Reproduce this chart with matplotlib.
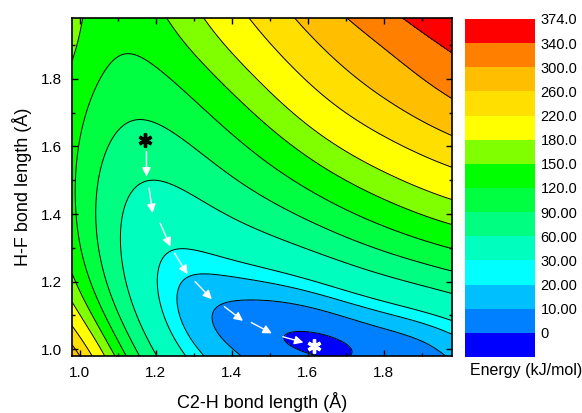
import numpy as np
import matplotlib
matplotlib.use("Agg")
import matplotlib.pyplot as plt
from numpy.polynomial import legendre as L

plt.rcParams["font.family"] = ["Liberation Sans", "DejaVu Sans"]

# energy bands (kJ/mol), boundaries from low to high, and their fill colours
levels = [-10, 0, 10, 20, 30, 60, 90, 120, 150, 180, 220, 260, 300, 340, 374]
level_labels = ["0", "10.00", "20.00", "30.00", "60.00", "90.00", "120.0",
                "150.0", "180.0", "220.0", "260.0", "300.0", "340.0", "374.0"]
fill_colors = ["#0000FF", "#0080FF", "#00BFFF", "#00FFFF", "#00FFBF", "#00FF80",
               "#00FF40", "#00FF00", "#80FF00", "#FFFF00", "#FFDF00", "#FFBF00",
               "#FF8000", "#FF0000"]

# points lying on each isoenergy line, (C2-H, H-F) in angstrom
iso_0 = [(1.716, 0.997), (1.693, 1.021), (1.628, 1.040), (1.561, 1.046),
         (1.530, 1.034), (1.553, 1.011), (1.618, 0.990), (1.685, 0.985)]
iso_10 = [(1.44, 0.975), (1.405, 1.002), (1.370, 1.051), (1.355, 1.100),
          (1.379, 1.136), (1.432, 1.147), (1.476, 1.145), (1.563, 1.126),
          (1.65, 1.10), (1.739, 1.071), (1.80, 1.053), (1.870, 1.030),
          (1.915, 1.010), (1.941, 0.992), (1.965, 0.975)]
iso_20 = [(1.345, 0.98), (1.309, 1.012), (1.283, 1.071), (1.269, 1.145),
          (1.283, 1.190), (1.344, 1.222), (1.41, 1.215), (1.476, 1.200),
          (1.56, 1.182), (1.651, 1.160), (1.74, 1.137), (1.826, 1.112),
          (1.90, 1.083), (1.98, 1.047)]
iso_30 = [(1.265, 0.98), (1.23, 1.032), (1.212, 1.111), (1.208, 1.225),
          (1.239, 1.289), (1.30, 1.286), (1.370, 1.274), (1.489, 1.245),
          (1.57, 1.222), (1.651, 1.200), (1.74, 1.173), (1.826, 1.145),
          (1.90, 1.118), (1.98, 1.090)]
iso_60 = [(1.208, 0.98), (1.17, 1.05), (1.14, 1.12), (1.12, 1.20),
          (1.108, 1.30), (1.107, 1.388), (1.12, 1.45), (1.142, 1.487),
          (1.195, 1.496), (1.25, 1.48), (1.35, 1.425), (1.489, 1.345),
          (1.57, 1.305), (1.65, 1.27), (1.74, 1.232), (1.80, 1.21),
          (1.89, 1.185), (1.98, 1.162)]
iso_90 = [(1.16, 0.98), (1.13, 1.04), (1.10, 1.10), (1.07, 1.18),
          (1.05, 1.27), (1.04, 1.37), (1.04, 1.46), (1.05, 1.53),
          (1.081, 1.615), (1.138, 1.680), (1.20, 1.672), (1.283, 1.605),
          (1.40, 1.51), (1.52, 1.43), (1.65, 1.36), (1.80, 1.29),
          (1.89, 1.258), (1.98, 1.229)]
iso_120 = [(1.12, 0.98), (1.095, 1.04), (1.072, 1.10), (1.045, 1.17),
           (1.02, 1.25), (0.997, 1.33), (0.99, 1.45), (0.993, 1.596),
           (1.028, 1.744), (1.063, 1.843), (1.116, 1.868), (1.17, 1.855),
           (1.239, 1.793), (1.30, 1.74), (1.370, 1.674), (1.43, 1.615),
           (1.489, 1.556), (1.589, 1.477), (1.68, 1.42), (1.78, 1.37),
           (1.88, 1.33), (1.98, 1.299)]
iso_150 = [(1.094, 0.98), (1.062, 1.04), (1.035, 1.10), (1.008, 1.16),
           (0.98, 1.22), (0.98, 1.823), (0.995, 1.90), (1.019, 1.98),
           (1.221, 1.98), (1.25, 1.94), (1.283, 1.892), (1.33, 1.84),
           (1.370, 1.793), (1.43, 1.72), (1.489, 1.655), (1.56, 1.59),
           (1.64, 1.53), (1.739, 1.477), (1.86, 1.415), (1.98, 1.366)]
iso_180 = [(1.063, 0.98), (1.04, 1.02), (1.02, 1.06), (1.0, 1.10),
           (0.98, 1.136), (1.326, 1.98), (1.36, 1.935), (1.40, 1.888),
           (1.44, 1.835), (1.489, 1.778), (1.55, 1.72), (1.62, 1.66),
           (1.70, 1.60), (1.78, 1.545), (1.87, 1.495), (1.98, 1.455)]
iso_220 = [(1.037, 0.98), (1.01, 1.025), (0.98, 1.071), (1.445, 1.98),
           (1.476, 1.932), (1.52, 1.87), (1.57, 1.815), (1.651, 1.744),
           (1.73, 1.68), (1.80, 1.63), (1.89, 1.575), (1.98, 1.531)]
iso_260 = [(1.006, 0.98), (0.98, 1.017), (1.568, 1.98), (1.61, 1.93),
           (1.65, 1.88), (1.695, 1.835), (1.738, 1.793), (1.80, 1.74),
           (1.85, 1.70), (1.92, 1.66), (1.98, 1.630)]
iso_300 = [(1.699, 1.98), (1.74, 1.95), (1.78, 1.92), (1.815, 1.892),
           (1.853, 1.863), (1.89, 1.833), (1.92, 1.80), (1.95, 1.772), (1.98, 1.744)]
iso_340 = [(1.844, 1.98), (1.88, 1.95), (1.914, 1.922), (1.95, 1.893), (1.98, 1.867)]

# single energy estimates (x, y, E) at corners, the well and the valley floor
spot_x = [1.98, 0.98, 0.98, 0.99, 1.623, 1.58, 1.67, 1.10, 1.116, 0.98, 1.17,
          1.19, 1.45, 1.50, 1.76, 1.80, 1.88, 1.98, 1.80]
spot_y = [1.98, 0.98, 1.98, 1.94, 1.016, 1.028, 1.006, 1.98, 1.93, 1.50, 1.62,
          1.40, 1.10, 1.00, 0.98, 1.01, 0.995, 0.98, 1.80]
spot_e = [378, 285, 158, 155, -5, -3, -3, 127, 124, 132, 80,
          48, 5, 3, 2, 4, 6, 11, 290]

# well centre, half-lengths and tilt of the lowest basin
well_c = (1.623, 1.016)
well_len = (0.10, 0.034)
well_tilt = -0.2

# reaction path arrows (tail -> head) and the two stationary points
arrow_x0 = [1.176, 1.183, 1.212, 1.250, 1.304, 1.381, 1.452, 1.535]
arrow_y0 = [1.585, 1.477, 1.373, 1.284, 1.200, 1.126, 1.079, 1.037]
arrow_x1 = [1.176, 1.192, 1.239, 1.284, 1.348, 1.430, 1.506, 1.589]
arrow_y1 = [1.511, 1.403, 1.304, 1.222, 1.148, 1.084, 1.047, 1.020]
start_pt = (1.173, 1.620)
end_pt = (1.616, 1.010)

DEG = 10
SMOOTH = 0.0008


def poly_basis(x, y):
    u = (np.asarray(x, float) - 1.48) / 0.5
    v = (np.asarray(y, float) - 1.48) / 0.5
    full = L.legvander2d(u, v, [DEG, DEG])
    keep = [i * (DEG + 1) + j for i in range(DEG + 1)
            for j in range(DEG + 1) if i + j <= DEG]
    return full[..., keep]


def well_term(x, y):
    th = np.arctan(well_tilt)
    dx = np.asarray(x, float) - well_c[0]
    dy = np.asarray(y, float) - well_c[1]
    a = dx * np.cos(th) + dy * np.sin(th)
    b = -dx * np.sin(th) + dy * np.cos(th)
    return np.exp(-(a / well_len[0]) ** 2 - (b / well_len[1]) ** 2)


def basis(x, y):
    return np.concatenate([poly_basis(x, y), well_term(x, y)[..., None]], axis=-1)


def curvature_rows(n=26, h=0.02):
    # second differences of the polynomial part, used as a smoothness penalty
    t = np.linspace(0.98, 1.98, n)
    cx, cy = [a.ravel() for a in np.meshgrid(t, t)]
    b0 = poly_basis(cx, cy)
    dxx = poly_basis(cx + h, cy) - 2 * b0 + poly_basis(cx - h, cy)
    dyy = poly_basis(cx, cy + h) - 2 * b0 + poly_basis(cx, cy - h)
    dxy = (poly_basis(cx + h, cy + h) - poly_basis(cx + h, cy - h)
           - poly_basis(cx - h, cy + h) + poly_basis(cx - h, cy - h)) / 2
    rows = np.vstack([dxx, dyy, dxy]) / h ** 2
    return np.hstack([rows, np.zeros((rows.shape[0], 1))])


# smoothed least-squares surface through the traced lines
traces = {0: iso_0, 10: iso_10, 20: iso_20, 30: iso_30, 60: iso_60, 90: iso_90,
          120: iso_120, 150: iso_150, 180: iso_180, 220: iso_220, 260: iso_260,
          300: iso_300, 340: iso_340}
px, py, pe = list(spot_x), list(spot_y), list(spot_e)
for lev, pts in traces.items():
    for x, y in pts:
        px.append(x)
        py.append(y)
        pe.append(lev)
A = basis(px, py)
P = curvature_rows() * SMOOTH
M = np.vstack([A, P])
rhs = np.concatenate([np.array(pe, float), np.zeros(P.shape[0])])
coef = np.linalg.lstsq(M, rhs, rcond=None)[0]

gx = np.linspace(0.98, 1.98, 301)
gy = np.linspace(0.98, 1.98, 301)
GX, GY = np.meshgrid(gx, gy)
Z = basis(GX, GY) @ coef
Z = np.clip(Z, levels[0] + 0.1, levels[-1] - 0.1)

fig = plt.figure(figsize=(5.82, 4.13), dpi=100)
ax = fig.add_axes([0.1237, 0.138, 0.6529, 0.8184])
cax = fig.add_axes([0.799, 0.1356, 0.1203, 0.8184])

cs = ax.contourf(GX, GY, Z, levels=levels, colors=fill_colors)
ax.contour(GX, GY, Z, levels=levels[1:-1], colors="black", linewidths=0.7)

for x0, y0, x1, y1 in zip(arrow_x0, arrow_y0, arrow_x1, arrow_y1):
    ax.annotate("", xy=(x1, y1), xytext=(x0, y0),
                arrowprops=dict(arrowstyle="-|>", color="white", lw=1.0,
                                mutation_scale=13, shrinkA=0, shrinkB=0))
ax.plot(*start_pt, marker=(6, 2, 0), color="black", ms=10, mew=2.4)
ax.plot(*end_pt, marker=(6, 2, 0), color="white", ms=10, mew=2.4)

ax.set_xlim(0.98, 1.98)
ax.set_ylim(0.98, 1.98)
ax.set_xticks([1.0, 1.2, 1.4, 1.6, 1.8])
ax.set_yticks([1.0, 1.2, 1.4, 1.6, 1.8])
ax.set_xticks(np.arange(1.1, 1.98, 0.2), minor=True)
ax.set_yticks(np.arange(1.1, 1.98, 0.2), minor=True)
ax.tick_params(which="both", direction="in", top=True, right=True,
               labelsize=11, width=1, pad=7)
ax.tick_params(which="major", length=4.5)
ax.tick_params(which="minor", length=2.5)
for s in ax.spines.values():
    s.set_linewidth(1.2)
ax.set_xlabel("C2-H bond length (Å)", fontsize=13)
ax.set_ylabel("H-F bond length (Å)", fontsize=13)
ax.xaxis.set_label_coords(0.5, -0.106)
ax.yaxis.set_label_coords(-0.106, 0.5)

cb = fig.colorbar(cs, cax=cax, spacing="uniform")
cb.set_ticks(levels[1:])
cb.set_ticklabels(level_labels)
cb.outline.set_visible(False)
cax.tick_params(length=0, labelsize=10.5, pad=4)
fig.text(470 / 582, 1 - 371 / 413, "Energy (kJ/mol)", fontsize=11.5, ha="left", va="center")

fig.savefig("out.png", dpi=100)
